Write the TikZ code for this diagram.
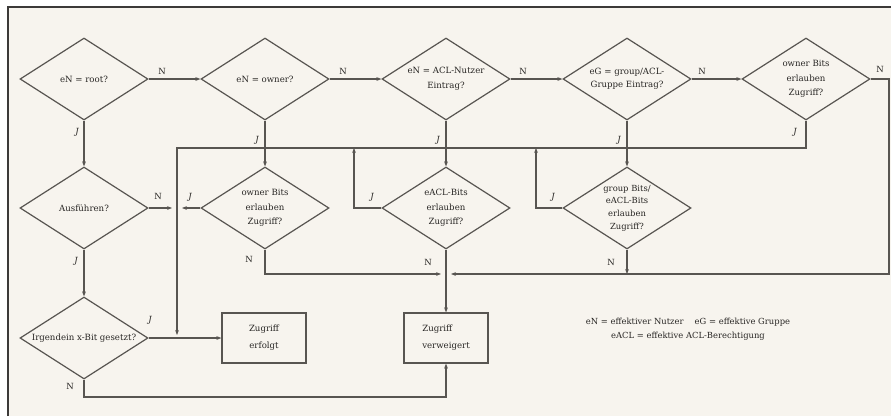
\documentclass[tikz,border=0pt]{standalone}
\usepackage{fontspec}
\setmainfont{DejaVu Serif}
\usetikzlibrary{shapes.geometric,arrows.meta,calc}
\definecolor{bg}{RGB}{247,244,238}
\definecolor{ln}{RGB}{88,85,81}
\definecolor{fr}{RGB}{60,58,56}
\definecolor{tx}{RGB}{40,38,36}
\begin{document}
\begin{tikzpicture}[x=1pt,y=-1pt,
  dia/.style={diamond, aspect=1.56, draw=ln, line width=1.2pt, minimum width=128pt, minimum height=82pt,
    inner sep=-8pt, align=center, text=tx, font=\fontsize{8.6}{14.5}\selectfont},
  box/.style={rectangle, draw=ln, line width=1.2pt, minimum width=84pt, minimum height=50pt,
    inner sep=0pt, align=left, text=tx, font=\fontsize{8.6}{17}\selectfont},
  con/.style={draw=ln, line width=1.3pt, -{Stealth[length=5pt,width=3.8pt]}},
  lab/.style={text=tx, inner sep=0pt, font=\fontsize{8.5}{9}\selectfont}
]
\useasboundingbox (0,0) rectangle (891,416);
\fill[white] (0,0) rectangle (891,416);
\fill[bg] (8,7) rectangle (891,416);
\draw[fr, line width=1.8pt] (8,416) -- (8,7) -- (891,7);

% top row
\node[dia] (d1) at (84,79) {eN = root?};
\node[dia] (d2) at (265,79) {eN = owner?};
\node[dia] (d3) at (446,79) {eN = ACL-Nutzer\\Eintrag?};
\node[dia, font=\fontsize{8.6}{13}\selectfont] (d4) at (627,79) {eG = group/ACL-\\Gruppe Eintrag?};
\node[dia] (d5) at (806,79) {owner Bits\\erlauben\\Zugriff?};

% second row
\node[dia] (a) at (84,208) {Ausführen?};
\node[dia] (b2) at (265,208) {owner Bits\\erlauben\\Zugriff?};
\node[dia] (b3) at (446,208) {eACL-Bits\\erlauben\\Zugriff?};
\node[dia, inner sep=-16pt, font=\fontsize{8.4}{12.6}\selectfont] (b4) at (627,208) {group Bits/\\eACL-Bits\\erlauben\\Zugriff?};

% third row
\node[dia, inner sep=-12pt, font=\fontsize{8.6}{10}\selectfont] (ir) at (84,338) {Irgendein x-Bit gesetzt?};
\node[box, align=center] (ok) at (264,338) {Zugriff\\erfolgt};
\node[box] (deny) at (446,338) {Zugriff\\verweigert};

\node[lab, align=center, font=\fontsize{8.4}{14}\selectfont] (leg) at (688,329)
  {eN = effektiver Nutzer\quad\ eG = effektive Gruppe\\eACL = effektive ACL-Berechtigung};

% helper coordinates
\coordinate (r1) at (889,79);
\coordinate (r2) at (889,274);
\coordinate (mR) at (451,274);
\coordinate (mL) at (441,274);
\coordinate (jr) at (806,148);
\coordinate (jl) at (177,148);
\coordinate (jb) at (177,335);
\coordinate (na) at (172,208);
\coordinate (nb) at (182,208);
\coordinate (c3) at (354,208);
\coordinate (c3t) at (354,148);
\coordinate (c4) at (536,208);
\coordinate (c4t) at (536,148);
\coordinate (b2d) at (265,274);
\coordinate (b4d) at (627,274);
\coordinate (irb) at (84,397);
\coordinate (irr) at (446,397);

% top row N connectors
\draw[con] (d1.east) -- (d2.west);
\draw[con] (d2.east) -- (d3.west);
\draw[con] (d3.east) -- (d4.west);
\draw[con] (d4.east) -- (d5.west);
\draw[con] (d5.east) -- (r1) -- (r2) -- (mR);

% J down connectors
\draw[con] (d1.south) -- (a.north);
\draw[con] (d2.south) -- (b2.north);
\draw[con] (d3.south) -- (b3.north);
\draw[con] (d4.south) -- (b4.north);
\draw[con] (d5.south) -- (jr) -- (jl) -- (jb);

% second row
\draw[con] (a.east) -- (na);
\draw[con] (b2.west) -- (nb);
\draw[con] (b3.west) -- (c3) -- (c3t);
\draw[con] (b4.west) -- (c4) -- (c4t);
\draw[con] (b2.south) -- (b2d) -- (mL);
\draw[con] (b3.south) -- (deny.north);
\draw[con] (b4.south) -- (b4d);
\draw[con] (a.south) -- (ir.north);

% third row
\draw[con] (ir.east) -- (ok.west);
\draw[con] (ir.south) -- (irb) -- (irr) -- (deny.south);

% labels
\node[lab] (l1) at (162,71) {N};
\node[lab] (l2) at (343,71) {N};
\node[lab] (l3) at (523,71) {N};
\node[lab] (l4) at (702,71) {N};
\node[lab] (l5) at (880,69) {N};
\node[lab] (l6) at (77,132) {\itshape J};
\node[lab] (l7) at (257,140) {\itshape J};
\node[lab] (l8) at (438,140) {\itshape J};
\node[lab] (l9) at (619,140) {\itshape J};
\node[lab] (l10) at (795,132) {\itshape J};
\node[lab] (l11) at (158,196) {N};
\node[lab] (l12) at (190,197) {\itshape J};
\node[lab] (l13) at (372,197) {\itshape J};
\node[lab] (l14) at (553,197) {\itshape J};
\node[lab] (l15) at (249,259) {N};
\node[lab] (l16) at (428,262) {N};
\node[lab] (l17) at (611,262) {N};
\node[lab] (l18) at (76,261) {\itshape J};
\node[lab] (l19) at (150,320) {\itshape J};
\node[lab] (l20) at (70,386) {N};
\end{tikzpicture}
\end{document}
